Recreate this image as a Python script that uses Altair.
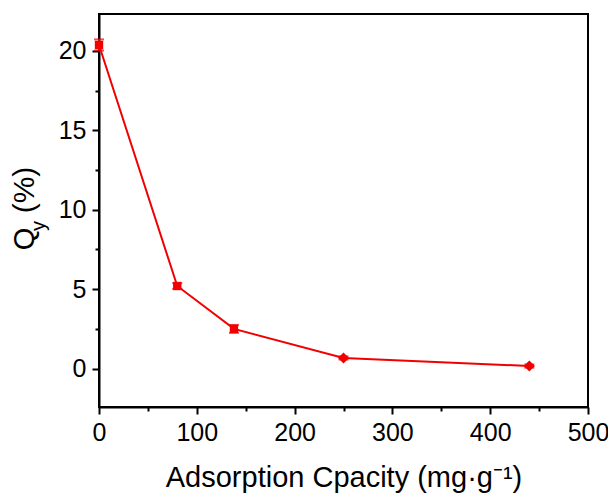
import altair as alt
import pandas as pd

# data
capacity = [0, 80, 138, 250, 440]
qy = [20.38, 5.2, 2.5, 0.67, 0.16]
qy_err = [0.35, 0.18, 0.25, 0.1, 0.1]

x_ticks = [0, 50, 100, 150, 200, 250, 300, 350, 400, 450, 500]
y_ticks = [0, 2.5, 5, 7.5, 10, 12.5, 15, 17.5, 20]

df = pd.DataFrame({"x": capacity, "y": qy, "e": qy_err})
df["lo"] = df["y"] - df["e"]
df["hi"] = df["y"] + df["e"]

RED = "#f20000"
FONT = "Liberation Sans"

xscale = alt.Scale(domain=[0, 500], nice=False, zero=False)
yscale = alt.Scale(domain=[-2.42, 22.33], nice=False, zero=False)

xaxis = alt.Axis(
    values=x_ticks,
    labelExpr="datum.value % 100 === 0 ? datum.label : ''",
    tickSize={"condition": {"test": "datum.value % 100 !== 0", "value": 4}, "value": 7},
    title="Adsorption Cpacity (mg·g⁻¹)",
    titleFontSize=29, titleFontWeight="normal", titlePadding=18,
    labelFontSize=25, labelPadding=6, labelFlush=False,
    grid=False, domainColor="black", domainWidth=2, tickColor="black", tickWidth=2,
    labelColor="black", titleColor="black", labelFont=FONT, titleFont=FONT,
)
yaxis = alt.Axis(
    values=y_ticks,
    labelExpr="datum.value % 5 === 0 ? datum.label : ''",
    tickSize={"condition": {"test": "datum.value % 5 !== 0", "value": 4}, "value": 7},
    title=None,
    labelFontSize=25, labelPadding=6, labelFlush=False,
    grid=False, domainColor="black", domainWidth=2, tickColor="black", tickWidth=2,
    labelColor="black", labelFont=FONT,
)

base = alt.Chart(df)

line = base.mark_line(color=RED, strokeWidth=2).encode(
    x=alt.X("x:Q", scale=xscale, axis=xaxis),
    y=alt.Y("y:Q", scale=yscale, axis=yaxis),
)
bars = base.mark_rule(color=RED, strokeWidth=2).encode(
    x="x:Q", y="lo:Q", y2="hi:Q"
)
cap_lo = base.mark_tick(color=RED, orient="horizontal", size=10, thickness=2).encode(
    x="x:Q", y="lo:Q"
)
cap_hi = base.mark_tick(color=RED, orient="horizontal", size=10, thickness=2).encode(
    x="x:Q", y="hi:Q"
)
squares = base.transform_filter("datum.x < 200").mark_point(
    shape="square", filled=True, color=RED, size=70, opacity=1
).encode(x="x:Q", y="y:Q")
diamonds = base.transform_filter("datum.x >= 200").mark_point(
    shape="diamond", filled=True, color=RED, size=120, opacity=1
).encode(x="x:Q", y="y:Q")

# y-axis title with subscript, built from text pieces
t_q = alt.Chart(df).transform_filter("datum.x == 0").mark_text(
    text="Q", angle=270, fontSize=29, font=FONT, color="black", align="center", baseline="middle"
).encode(x=alt.value(-74), y=alt.value(225))
t_sub = alt.Chart(df).transform_filter("datum.x == 0").mark_text(
    text="y", angle=270, fontSize=20, font=FONT, color="black", align="center", baseline="middle"
).encode(x=alt.value(-60), y=alt.value(212))
t_pct = alt.Chart(df).transform_filter("datum.x == 0").mark_text(
    text="(%)", angle=270, fontSize=30, font=FONT, color="black", align="center", baseline="middle"
).encode(x=alt.value(-74), y=alt.value(176))

chart = alt.layer(line, bars, cap_lo, cap_hi, squares, diamonds, t_q, t_sub, t_pct).properties(
    width=489, height=393,
    autosize=alt.AutoSizeParams(type="none"),
    padding={"left": 91, "top": 6, "right": 20, "bottom": 89},
    background="white",
).configure_view(stroke="black", strokeWidth=2)

chart.save("out.html", embed_options={"renderer": "svg", "actions": False})
